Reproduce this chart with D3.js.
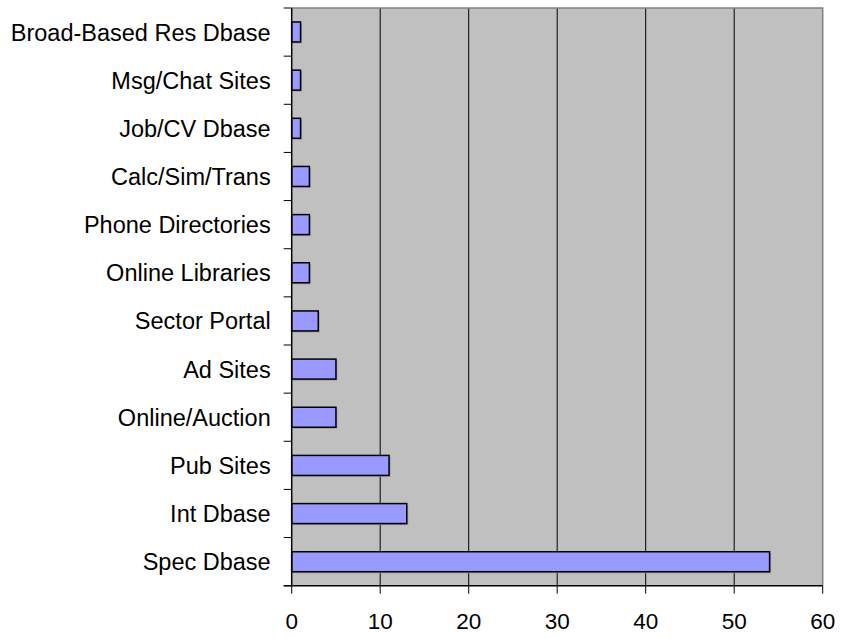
<!DOCTYPE html>
<html><head><meta charset="utf-8">
<script src="https://cdn.jsdelivr.net/npm/d3@7"></script>
<style>body{margin:0;background:#fff}svg{display:block}text{font-family:"Liberation Sans",Arial,sans-serif}</style>
</head><body>
<script>
const categories = ["Broad-Based Res Dbase","Msg/Chat Sites","Job/CV Dbase","Calc/Sim/Trans","Phone Directories","Online Libraries","Sector Portal","Ad Sites","Online/Auction ","Pub Sites","Int Dbase","Spec Dbase"];
const values = [1,1,1,2,2,2,3,5,5,11,13,54];
const xTicks = [0,10,20,30,40,50,60];

const W=841,H=638;
const m={left:291.7,right:18.3,top:8,bottom:52.3};
const svg=d3.select("body").append("svg").attr("width",W).attr("height",H);
const x=d3.scaleLinear().domain([0,60]).range([m.left,W-m.right]);
const y=d3.scaleBand().domain(categories).range([m.top,H-m.bottom]).paddingInner(0.585).paddingOuter(0.29);
const yb=d3.scaleBand().domain(categories).range([m.top,H-m.bottom]);

svg.append("rect").attr("x",m.left).attr("y",m.top).attr("width",x(60)-m.left).attr("height",H-m.bottom-m.top).attr("fill","#C0C0C0");
svg.append("g").selectAll("line").data(xTicks.slice(1,-1)).join("line")
 .attr("x1",d=>x(d)).attr("x2",d=>x(d)).attr("y1",m.top).attr("y2",H-m.bottom).attr("stroke","#000").attr("stroke-width",1);
svg.append("path").attr("d",`M${m.left},${m.top}H${x(60)}V${H-m.bottom}`).attr("fill","none").attr("stroke","#808080").attr("stroke-width",1.5);
svg.append("g").selectAll("rect").data(categories).join("rect")
 .attr("x",m.left+1.5).attr("y",d=>y(d)+1.5).attr("width",(d,i)=>x(values[i])-m.left).attr("height",y.bandwidth())
 .attr("fill","#9a9a9a");
svg.append("g").selectAll("rect").data(categories).join("rect")
 .attr("x",m.left).attr("y",d=>y(d)).attr("width",(d,i)=>x(values[i])-m.left).attr("height",y.bandwidth())
 .attr("fill","#9999FF").attr("stroke","#000").attr("stroke-width",1.5);

const ya=svg.append("g").attr("transform",`translate(${m.left},0)`);
ya.append("line").attr("x1",0).attr("x2",0).attr("y1",m.top).attr("y2",H-m.bottom).attr("stroke","#000").attr("stroke-width",1.5);
const bounds=categories.map(c=>yb(c)).concat([H-m.bottom]);
ya.selectAll("line.t").data(bounds).join("line").attr("class","t").attr("x1",-8).attr("x2",0).attr("y1",d=>d).attr("y2",d=>d).attr("stroke","#000").attr("stroke-width",1);
ya.selectAll("text").data(categories).join("text").attr("x",-21).attr("y",d=>yb(d)+yb.bandwidth()/2).attr("dy","0.36em")
 .attr("text-anchor","end").attr("font-size",23.5).text(d=>d);
const xa=svg.append("g").attr("transform",`translate(0,${H-m.bottom})`);
xa.append("line").attr("x1",m.left-8).attr("x2",x(60)).attr("stroke","#000").attr("stroke-width",1.5);
xa.selectAll("line.t").data(xTicks).join("line").attr("class","t").attr("x1",d=>x(d)).attr("x2",d=>x(d)).attr("y1",0).attr("y2",8).attr("stroke","#000");
xa.selectAll("text").data(xTicks).join("text").attr("x",d=>x(d)).attr("y",43.6).attr("text-anchor","middle").attr("font-size",22.5).text(d=>d);
</script>
</body></html>
